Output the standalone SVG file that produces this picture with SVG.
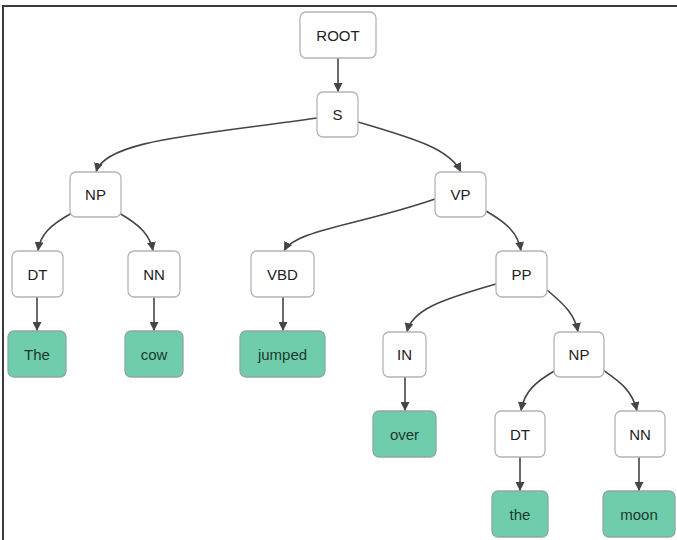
<svg xmlns="http://www.w3.org/2000/svg" width="677" height="540" viewBox="0 0 677 540">
<style>
.n rect{fill:#fff;stroke:#b4b4b4;stroke-width:1.3}
.w rect{fill:#6fcdac;stroke:#8fa89f;stroke-width:1.3}
text{font-family:"Liberation Sans",Arial,sans-serif;font-size:15px;text-anchor:middle;dominant-baseline:central;fill:#222}
.w text{fill:#1c3a30}
#edges path{fill:none;stroke:#454545;stroke-width:1.6;marker-end:url(#ah)}
</style>
<defs>
<marker id="ah" viewBox="0 0 10 10" refX="10" refY="5" markerWidth="9" markerHeight="9" markerUnits="userSpaceOnUse" orient="auto">
<path d="M0,0 L10,5 L0,10 z" fill="#454545"/>
</marker>
</defs>
<rect width="677" height="540" fill="#fff"/>
<path d="M3,540 L3,6 L677,6" fill="none" stroke="#3a3a3a" stroke-width="2"/>
<g id="edges">
<path d="M338,58 L338,92"/>
<path d="M317,118 C200,135 105,140 96,172"/>
<path d="M358,122 C420,140 450,150 461,172"/>
<path d="M72,213 C50,225 40,235 38,251"/>
<path d="M119,213 C140,225 150,235 153,251"/>
<path d="M37,297 L37,331"/>
<path d="M154,297 L154,331"/>
<path d="M435,199 C360,225 295,230 284,251"/>
<path d="M486,211 C505,222 518,232 521,251"/>
<path d="M283,297 L283,331"/>
<path d="M496,284 C440,300 412,310 407,332"/>
<path d="M547,290 C565,305 575,315 578,332"/>
<path d="M405,377 L405,411"/>
<path d="M556,370 C535,382 524,392 521,411"/>
<path d="M603,370 C620,382 632,390 637,411"/>
<path d="M520,457 L520,491"/>
<path d="M639,457 L639,491"/>
</g>
<g id="root" class="n"><rect x="300" y="12" width="76" height="46" rx="6"/><text x="338" y="35">ROOT</text></g>
<g id="s" class="n"><rect x="317" y="92" width="41" height="45" rx="6"/><text x="337.5" y="114.5">S</text></g>
<g id="np1" class="n"><rect x="70" y="172" width="51" height="45" rx="6"/><text x="95.5" y="194.5">NP</text></g>
<g id="vp" class="n"><rect x="435" y="172" width="51" height="45" rx="6"/><text x="460.5" y="194.5">VP</text></g>
<g id="dt1" class="n"><rect x="12" y="251" width="51" height="46" rx="6"/><text x="37.5" y="274">DT</text></g>
<g id="nn1" class="n"><rect x="128" y="251" width="52" height="46" rx="6"/><text x="154" y="274">NN</text></g>
<g id="vbd" class="n"><rect x="251" y="251" width="63" height="46" rx="6"/><text x="282.5" y="274">VBD</text></g>
<g id="pp" class="n"><rect x="496" y="251" width="51" height="46" rx="6"/><text x="521.5" y="274">PP</text></g>
<g id="w-the1" class="w"><rect x="8" y="331" width="58" height="46" rx="6"/><text x="37" y="354">The</text></g>
<g id="w-cow" class="w"><rect x="125" y="331" width="58" height="46" rx="6"/><text x="154" y="354">cow</text></g>
<g id="w-jumped" class="w"><rect x="240" y="331" width="85" height="46" rx="6"/><text x="282.5" y="354">jumped</text></g>
<g id="in" class="n"><rect x="383" y="332" width="43" height="45" rx="6"/><text x="404.5" y="354.5">IN</text></g>
<g id="np2" class="n"><rect x="554" y="332" width="50" height="45" rx="6"/><text x="579" y="354.5">NP</text></g>
<g id="w-over" class="w"><rect x="373" y="411" width="63" height="46" rx="6"/><text x="404.5" y="434">over</text></g>
<g id="dt2" class="n"><rect x="495" y="411" width="50" height="46" rx="6"/><text x="520" y="434">DT</text></g>
<g id="nn2" class="n"><rect x="615" y="411" width="50" height="46" rx="6"/><text x="640" y="434">NN</text></g>
<g id="w-the2" class="w"><rect x="492" y="491" width="56" height="46" rx="6"/><text x="520" y="514">the</text></g>
<g id="w-moon" class="w"><rect x="603" y="491" width="72" height="46" rx="6"/><text x="639" y="514">moon</text></g>
</svg>
